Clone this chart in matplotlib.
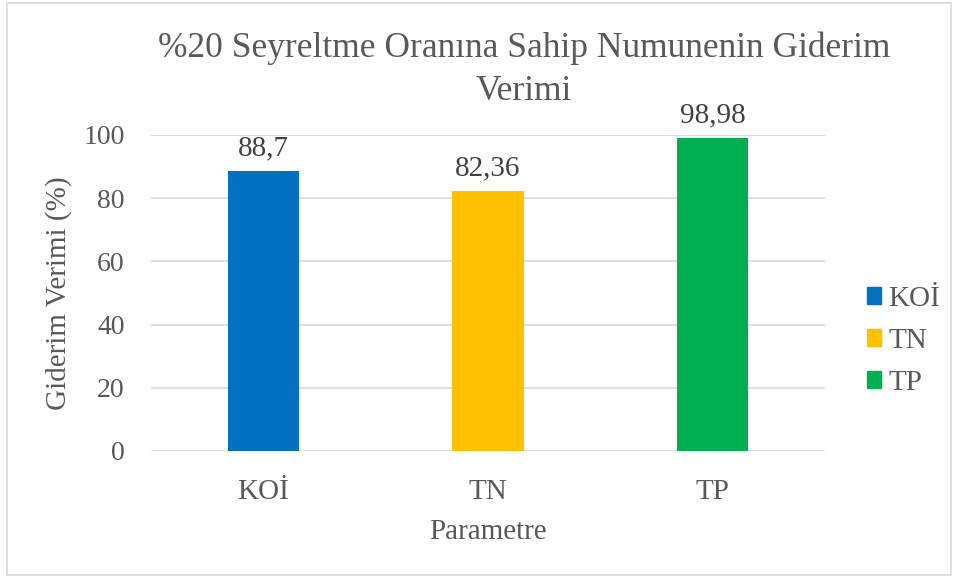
import numpy as np
import matplotlib.pyplot as plt
from matplotlib.patches import Patch

# data
categories = ['KOİ', 'TN', 'TP']
values = [88.7, 82.36, 98.98]
value_labels = ['88,7', '82,36', '98,98']
colors = ['#0070C0', '#FFC000', '#00B050']
title_lines = ['%20 Seyreltme Oranına Sahip Numunenin Giderim', 'Verimi']

plt.rcParams['font.family'] = ['Liberation Serif', 'DejaVu Serif']
txt = '#595959'

fig = plt.figure(dpi=100, figsize=[9.59, 5.77])
ax = fig.add_axes([151/959, 126/577, 674/959, 316/577])

x = np.arange(len(categories))
bars = ax.bar(x, values, width=0.317, color=colors, zorder=3)
for b, lab in zip(bars, value_labels):
    ax.annotate(lab, (b.get_x() + b.get_width()/2, b.get_height()),
                xytext=(0, 7), textcoords='offset points',
                ha='center', va='bottom', fontsize=21, color='#404040')

ax.set_xlim(-0.5, 2.5)
ax.set_ylim(0, 100)
ax.set_yticks(np.arange(0, 101, 20))
ax.set_xticks(x)
ax.set_xticklabels(categories)
ax.tick_params(axis='both', length=0, labelsize=20, colors=txt)
ax.tick_params(axis='y', pad=19)
ax.tick_params(axis='x', labelsize=21, pad=20)
ax.grid(axis='y', color='#D9D9D9', linewidth=1.2, zorder=0)
for s in ax.spines.values():
    s.set_visible(False)

ax.set_ylabel('Giderim Verimi (%)', fontsize=21, color=txt, labelpad=8)
ax.set_xlabel('Parametre', fontsize=21, color=txt, labelpad=10)

# title, one text per line
fig.text(524/959, 1 - 48/577, title_lines[0], ha='center', va='center',
         fontsize=25.5, color=txt)
fig.text(524/959, 1 - 91/577, title_lines[1], ha='center', va='center',
         fontsize=25.5, color=txt)

handles = [Patch(color=c, label=l) for c, l in zip(colors, categories)]
fig.legend(handles=handles, loc='center left', bbox_to_anchor=(852/959, 1 - 341/577),
           frameon=False, fontsize=21, handlelength=0.5, handleheight=0.5,
           handletextpad=0.25, labelspacing=0.55, labelcolor=txt, borderpad=0)

# chart border
fig.patches.append(plt.Rectangle((7/959, 2/577), 944/959, 572/577, transform=fig.transFigure,
                                 fill=False, edgecolor='#D9D9D9', linewidth=1.2))

plt.savefig('out.png', format='png')
